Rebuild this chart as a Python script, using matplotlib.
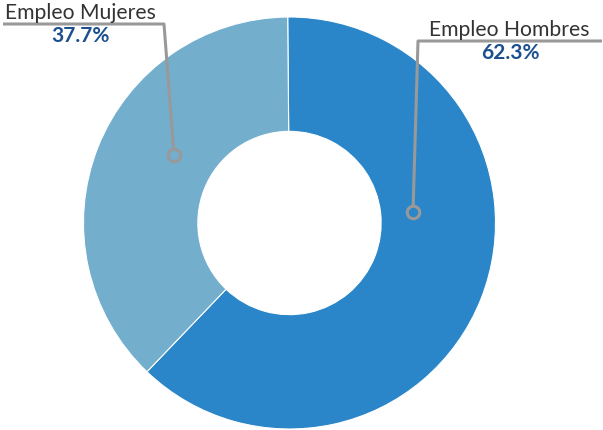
import numpy as np
import matplotlib
matplotlib.use("Agg")
import matplotlib.pyplot as plt

# Employment share by sex
categories = ["Empleo Hombres", "Empleo Mujeres"]
shares = [62.3, 37.7]
colors = ["#2a86c8", "#74aecd"]

W, H = 603, 430
fig = plt.figure(figsize=(W / 100, H / 100), dpi=100)
ax = fig.add_axes([0, 0, 1, 1])
ax.set_xlim(0, W)
ax.set_ylim(0, H)
ax.set_aspect("equal")
ax.axis("off")

cx, cy, R = 289.5, H - 223, 206
ax.pie(shares, colors=colors, startangle=90.5, counterclock=False,
       center=(cx, cy), radius=R,
       wedgeprops=dict(width=R * 0.555, edgecolor="white", linewidth=0.8))
ax.set_xlim(0, W)
ax.set_ylim(0, H)

line_col = "#999999"
label_font = dict(family=["Lato", "DejaVu Sans"], fontweight="normal",
                  color="#333333", fontsize=15.2)
pct_font = dict(family=["Lato", "DejaVu Sans"], fontweight="bold",
                color="#1b4f8f", fontsize=15)

# leader lines: marker point inside the wedge -> elbow -> horizontal run
leaders = {
    "Empleo Mujeres": dict(pt=(174, H - 155), elbow=(164, H - 24), end=(3, H - 24),
                           txt=(80, H - 13), pct=(80, H - 36)),
    "Empleo Hombres": dict(pt=(413, H - 212), elbow=(418, H - 41), end=(602, H - 41),
                           txt=(509, H - 30), pct=(510, H - 53)),
}

for name, val in zip(categories, shares):
    L = leaders[name]
    xs = [L["pt"][0], L["elbow"][0], L["end"][0]]
    ys = [L["pt"][1], L["elbow"][1], L["end"][1]]
    ax.plot(xs, ys, color=line_col, lw=2.2, solid_capstyle="butt", zorder=3)
    ax.plot(*L["pt"], marker="o", ms=9, mfc=colors[categories.index(name)],
            mec=line_col, mew=2.2, zorder=4)
    ax.text(*L["txt"], name, ha="center", va="center", **label_font)
    ax.text(*L["pct"], f"{val:.1f}%", ha="center", va="center", **pct_font)

fig.savefig("out.png", dpi=100, facecolor="white")
